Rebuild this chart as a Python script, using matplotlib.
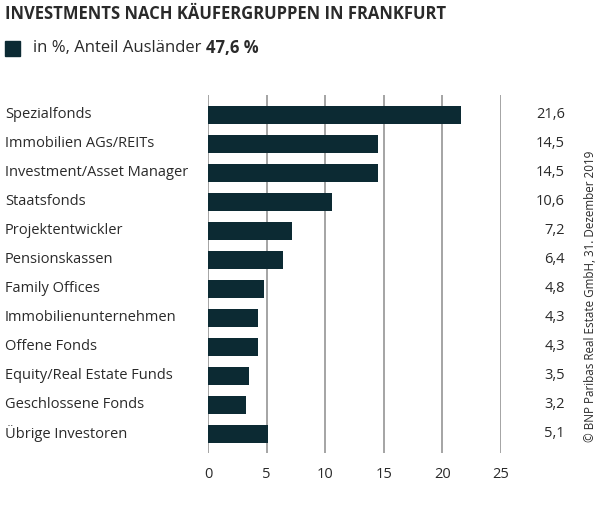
import matplotlib.pyplot as plt
from matplotlib.transforms import blended_transform_factory

categories = ["Spezialfonds", "Immobilien AGs/REITs", "Investment/Asset Manager",
              "Staatsfonds", "Projektentwickler", "Pensionskassen", "Family Offices",
              "Immobilienunternehmen", "Offene Fonds", "Equity/Real Estate Funds",
              "Geschlossene Fonds", "Übrige Investoren"]
values = [21.6, 14.5, 14.5, 10.6, 7.2, 6.4, 4.8, 4.3, 4.3, 3.5, 3.2, 5.1]
value_labels = ["21,6", "14,5", "14,5", "10,6", "7,2", "6,4", "4,8", "4,3", "4,3", "3,5", "3,2", "5,1"]
x_ticks = [0, 5, 10, 15, 20, 25]

plt.rcParams['font.family'] = ['Open Sans', 'DejaVu Sans']
bar_color = '#0c2a33'
text_color = '#2a2a2a'

fig = plt.figure(figsize=(6, 5.14), dpi=100)
ax = fig.add_axes([0.3467, 0.1187, 0.835 - 0.3467, 0.6965])

y = list(range(len(categories)))
ax.barh(y, values, height=0.62, color=bar_color, zorder=3)
ax.set_xlim(0, 25)
ax.set_ylim(11.66, -0.69)
ax.set_xticks(x_ticks)
ax.xaxis.grid(True, color='#8c8c8c', linewidth=1.1, zorder=1)
ax.set_axisbelow(True)
for s in ax.spines.values():
    s.set_visible(False)
ax.tick_params(axis='both', length=0, labelsize=10.5, colors=text_color)
ax.tick_params(axis='x', pad=10)
ax.set_yticks([])

# Kategorien links, Werte rechts
trans = blended_transform_factory(fig.transFigure, ax.transData)
for i, c in enumerate(categories):
    ax.text(5 / 600, i, c, fontsize=10.5, color=text_color, va='center', ha='left',
            transform=trans)
for i, v in enumerate(value_labels):
    ax.text(565 / 600, i, v, fontsize=10.5, color=text_color, va='center', ha='right',
            transform=trans)

fig.text(5 / 600, 1 - 14 / 514, "INVESTMENTS NACH KÄUFERGRUPPEN IN FRANKFURT",
         fontsize=12, fontweight='bold', color=text_color, va='center', ha='left')
fig.patches.append(plt.Rectangle((5 / 600, 1 - 56 / 514), 15 / 600, 15 / 514,
                                 transform=fig.transFigure, color=bar_color, figure=fig))
t = fig.text(33 / 600, 1 - 48 / 514, "in %, Anteil Ausländer ", fontsize=12,
             color=text_color, va='center', ha='left')
fig.canvas.draw()
bb = t.get_window_extent()
fig.text(bb.x1 / 600, 1 - 48 / 514, "47,6 %", fontsize=12, fontweight='bold',
         color=text_color, va='center', ha='left')
fig.text(591 / 600, 1 - 296 / 514, "© BNP Paribas Real Estate GmbH, 31. Dezember 2019",
         fontsize=8.4, color=text_color, rotation=90, va='center', ha='center')

fig.savefig('out.png', dpi=100)
